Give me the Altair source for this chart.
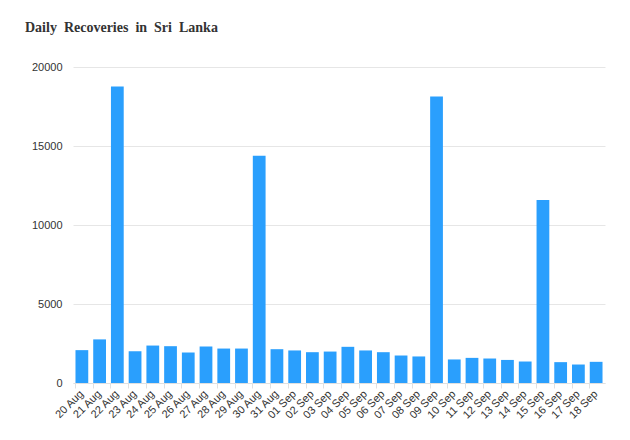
import altair as alt
import pandas as pd

dates = ["20 Aug", "21 Aug", "22 Aug", "23 Aug", "24 Aug", "25 Aug", "26 Aug", "27 Aug",
         "28 Aug", "29 Aug", "30 Aug", "31 Aug", "01 Sep", "02 Sep", "03 Sep", "04 Sep",
         "05 Sep", "06 Sep", "07 Sep", "08 Sep", "09 Sep", "10 Sep", "11 Sep", "12 Sep",
         "13 Sep", "14 Sep", "15 Sep", "16 Sep", "17 Sep", "18 Sep"]
recoveries = [2080, 2760, 18770, 2010, 2370, 2330, 1930, 2310,
              2180, 2180, 14380, 2140, 2060, 1950, 1990, 2290,
              2060, 1950, 1740, 1680, 18130, 1490, 1590, 1550,
              1460, 1360, 11590, 1320, 1170, 1340]
y_ticks = [0, 5000, 10000, 15000, 20000]

df = pd.DataFrame({"date": dates, "recoveries": recoveries})

W, H = 532, 316

chart = alt.Chart(df).mark_bar(color="#2a9ffd").encode(
    x=alt.X("date:N", sort=dates, title=None,
            scale=alt.Scale(paddingInner=0.28, paddingOuter=0.14),
            axis=alt.Axis(bandPosition=0, labelOffset=0, labelAngle=-45,
                          labelAlign="right", labelBaseline="middle", labelPadding=4,
                          labelFont="Liberation Sans", labelFontSize=11, labelColor="#333333",
                          domainColor="#e0e0e0", tickColor="#e0e0e0", tickSize=5, grid=False)),
    y=alt.Y("recoveries:Q", title=None,
            scale=alt.Scale(domain=[0, 20000], nice=False),
            axis=alt.Axis(values=y_ticks, domain=False, ticks=False, labelPadding=11,
                          labelFont="Liberation Sans", labelFontSize=11, labelColor="#333333",
                          gridColor="#e6e6e6", format="d")),
).properties(
    width=W, height=H,
    title=alt.TitleParams("Daily\u00a0 Recoveries\u00a0 in\u00a0 Sri\u00a0 Lanka", anchor="start",
                          frame="group", dx=-48,
                          font="Liberation Serif", fontSize=14, fontWeight="bold",
                          color="#333333", offset=26),
    autosize=alt.AutoSizeParams(type="none"),
    padding={"left": 73, "top": 67, "right": 25, "bottom": 57},
).configure_view(stroke=None)

chart.save("out.html", embed_options={"renderer": "svg", "actions": False})
